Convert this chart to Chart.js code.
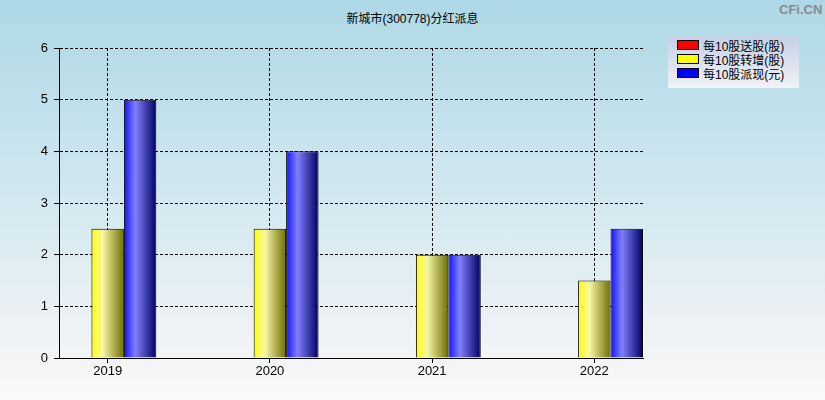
<!DOCTYPE html>
<html>
<head>
<meta charset="utf-8">
<script src="https://cdn.jsdelivr.net/npm/chart.js@4"></script>
<style>
  html, body { margin: 0; padding: 0; }
  body {
    width: 825px; height: 400px; position: relative; overflow: hidden;
    background: linear-gradient(to bottom, #add8e6 0%, #d3e8f0 50%, #fcf8f8 100%);
    font-family: "Liberation Sans", Arial, "Noto Sans CJK SC", sans-serif;
  }
  #wrap { position: absolute; left: 0; top: 0; width: 825px; height: 400px; }
  #title {
    position: absolute; left: 0; top: 9px; width: 825px; text-align: center;
    font-size: 12px; color: #000;
  }
  #mark {
    position: absolute; left: 779px; top: 2px; font-size: 13px; font-weight: bold;
    color: #8a8a8a;
  }
  #legend {
    position: absolute; left: 668px; top: 36px; width: 131px; height: 52px;
    background: linear-gradient(to bottom, #c4d0e6, #f2f2f8);
  }
  .item { position: absolute; left: 9px; height: 14px; font-size: 12px; line-height: 14px; color: #000; }
  .item i {
    display: inline-block; width: 20px; height: 8px; border: 1px solid #000;
    vertical-align: 1px; margin-right: 4px;
  }
</style>
</head>
<body>
<div id="title">新城市(300778)分红派息</div>
<div id="mark">CFi.CN</div>
<div id="wrap"><canvas id="myBarChart" width="825" height="400"></canvas></div>
<div id="legend"></div>
<script>
// data
const years = [2019, 2020, 2021, 2022];
const songGu = [0, 0, 0, 0];          // 每10股送股(股)
const zhuanZeng = [2.5, 2.5, 2, 1.5]; // 每10股转增(股)
const paiXian = [5, 4, 2, 2.5];       // 每10股派现(元)
const seriesNames = ['每10股送股(股)', '每10股转增(股)', '每10股派现(元)'];
const seriesColors = ['#ff0000', '#ffff00', '#0000ff'];
const yTicks = [0, 1, 2, 3, 4, 5, 6];

// cylinder-like shading: pure -> light -> dark
const shades = {
    '#ff0000': ['#ff0000', '#ff9090', '#700000'],
    '#ffff00': ['#ffff00', '#f6f6a8', '#6e6e00'],
    '#0000ff': ['#1010ff', '#8080ff', '#000060']
};

function barFill(color) {
    return function (context) {
        const chart = context.chart;
        if (context.dataIndex === undefined) return color;
        const bar = chart.getDatasetMeta(context.datasetIndex).data[context.dataIndex];
        if (!bar || !bar.width) return color;
        const s = shades[color];
        const g = chart.ctx.createLinearGradient(bar.x - bar.width / 2, 0, bar.x + bar.width / 2, 0);
        g.addColorStop(0, s[0]);
        g.addColorStop(0.35, s[1]);
        g.addColorStop(1, s[2]);
        return g;
    };
}

const values = [songGu, zhuanZeng, paiXian];
const datasets = values.map((vals, i) => ({
    label: seriesNames[i],
    data: vals,
    backgroundColor: barFill(seriesColors[i]),
    borderColor: '#000',
    borderWidth: 1,
    borderSkipped: 'bottom',
    categoryPercentage: 0.6,
    barPercentage: 1
}));

// legend as real text
const legend = document.getElementById('legend');
seriesNames.forEach((name, i) => {
    const d = document.createElement('div');
    d.className = 'item';
    d.style.top = (4 + i * 14) + 'px';
    d.innerHTML = '<i style="background:' + seriesColors[i] + '"></i>' + name;
    legend.appendChild(d);
});

const tickFont = { family: '"Liberation Sans", Arial, sans-serif', size: 13 };

var ctx = document.getElementById('myBarChart').getContext('2d');
var myBarChart = new Chart(ctx, {
    type: 'bar',
    data: { labels: years, datasets: datasets },
    options: {
        responsive: false,
        animation: false,
        events: [],
        layout: { padding: { left: 0, right: 182, top: 48, bottom: 0 } },
        plugins: { legend: { display: false }, title: { display: false }, tooltip: { enabled: false } },
        scales: {
            x: {
                type: 'linear',
                offset: false,
                min: years[0] - 0.3,
                max: years[years.length - 1] + 0.3,
                afterBuildTicks: (scale) => { scale.ticks = years.map(v => ({ value: v })); },
                afterFit: (scale) => { scale.height = 42; },
                grid: { color: '#000', lineWidth: 1, offset: false, tickLength: 5, tickColor: '#000', tickBorderDash: [] },
                border: { display: true, color: '#000', width: 1, dash: [3, 2] },
                ticks: { color: '#000', font: tickFont, padding: 1, maxRotation: 0, callback: v => String(v) }
            },
            y: {
                min: 0,
                max: 6,
                afterBuildTicks: (scale) => { scale.ticks = yTicks.map(v => ({ value: v })); },
                afterFit: (scale) => { scale.width = 59; },
                grid: { color: '#000', lineWidth: 1, tickLength: 5, tickColor: '#000', tickBorderDash: [] },
                border: { display: true, color: '#000', width: 1, dash: [3, 2] },
                ticks: { color: '#000', font: tickFont, padding: 6 }
            }
        }
    }
});
// second pass so the gradients can use the laid-out bar positions
myBarChart.update('none');
</script>
</body>
</html>
